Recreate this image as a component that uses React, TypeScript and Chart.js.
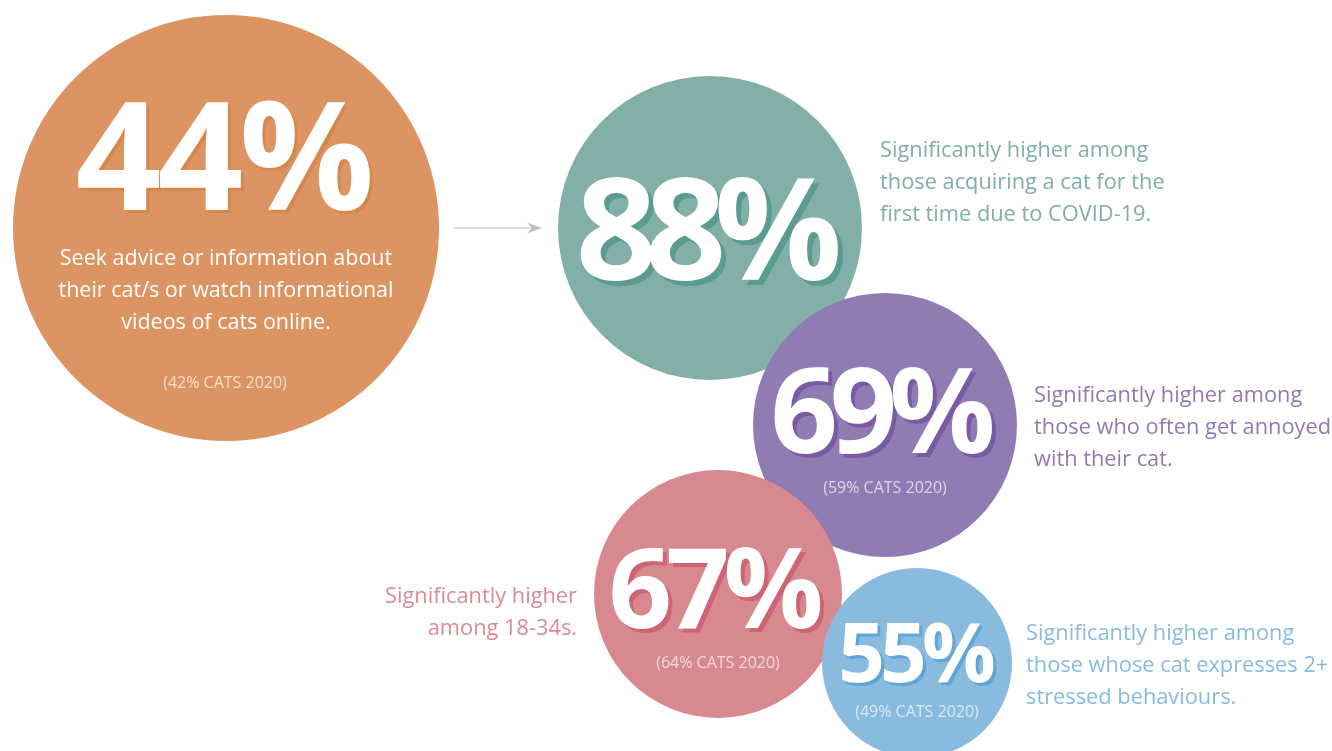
import React, { useEffect, useRef } from "react";
import { Chart, registerables } from "chart.js";
Chart.register(...registerables);

// ---------- data ----------
const groups = [
  "All cat owners",
  "First-time owners due to COVID-19",
  "Often annoyed with cat",
  "18-34s",
  "Cat expresses 2+ stressed behaviours",
];
const values2021 = [44, 88, 69, 67, 55];
const values2020: (number | null)[] = [42, null, 59, 64, 49];
const descriptions: string[][] = [
  ["Seek advice or information about", "their cat/s or watch informational", "videos of cats online."],
  ["Significantly higher among", "those acquiring a cat for the", "first time due to COVID-19."],
  ["Significantly higher among", "those who often get annoyed", "with their cat."],
  ["Significantly higher", "among 18-34s."],
  ["Significantly higher among", "those whose cat expresses 2+", "stressed behaviours."],
];

// ---------- layout (positions / sizes / styles) ----------
const W = 1332;
const H = 751;
const circleX = [226, 710, 885, 718, 917];
const circleY = [228, 228, 425, 594, 663];
const circleR = [213, 152, 132, 124, 95];
const fills = ["#DC9562", "#82AFA8", "#917BB3", "#D8888F", "#89BBDF"];
const shadowCols = ["#D6884C", "#5A9B92", "#7A5AA3", "#CF6474", "#5FA6D6"];
const sideCols = ["#FFFFFF", "#7FAFA7", "#9478B4", "#D98C94", "#87BBE0"];

const numX = [225, 709, 883, 716, 917];
const numBase = [210, 280, 453, 628, 682];
const numSize = [150, 142, 118, 111, 82];
const numSpacing = [-4, -12, -8, -6, -5];
const numShadow = [3, 5, 4, 4, 3];

const descX = [226, 880, 1034, 577, 1026];
const descBase = [265, 157, 402, 603, 640];
const descAlign: CanvasTextAlign[] = ["center", "left", "left", "right", "left"];
const descSize = [21.5, 21.8, 21.8, 21.8, 21.8];
const descLine = 32;

const prevX = [225, 0, 885, 718, 917];
const prevBase = [388, 0, 493, 668, 717];

const FONT = "'Open Sans', 'Noto Sans', sans-serif";

function drawSpaced(ctx: CanvasRenderingContext2D, text: string, cx: number, y: number, spacing: number) {
  // centre the ink of letter-spaced text on cx
  (ctx as any).letterSpacing = `${spacing}px`;
  ctx.textAlign = "left";
  const w = ctx.measureText(text).width - spacing;
  ctx.fillText(text, cx - w / 2, y);
  (ctx as any).letterSpacing = "0px";
}

const textPlugin = {
  id: "infographicText",
  afterDatasetsDraw(chart: any) {
    const ctx: CanvasRenderingContext2D = chart.ctx;
    const meta = chart.getDatasetMeta(0);
    ctx.save();
    // arrow between first two circles
    const p0 = meta.data[0];
    const p1 = meta.data[1];
    const ay = p0.y;
    const ax0 = p0.x + circleR[0] + 15;
    const ax1 = p1.x - circleR[1] - 16;
    ctx.strokeStyle = "#BDBDBD";
    ctx.lineWidth = 1.2;
    ctx.beginPath();
    ctx.moveTo(ax0, ay);
    ctx.lineTo(ax1 - 4, ay);
    ctx.stroke();
    ctx.fillStyle = "#BDBDBD";
    ctx.beginPath();
    ctx.moveTo(ax1, ay);
    ctx.lineTo(ax1 - 15, ay - 5.5);
    ctx.lineTo(ax1 - 10, ay);
    ctx.lineTo(ax1 - 15, ay + 5.5);
    ctx.closePath();
    ctx.fill();

    values2021.forEach((v, i) => {
      const label = `${v}%`;
      ctx.textBaseline = "alphabetic";
      ctx.font = `700 ${numSize[i]}px ${FONT}`;
      const off = numShadow[i];
      ctx.fillStyle = shadowCols[i];
      drawSpaced(ctx, label, numX[i] + off, numBase[i] + off, numSpacing[i]);
      ctx.fillStyle = "#FFFFFF";
      drawSpaced(ctx, label, numX[i], numBase[i], numSpacing[i]);

      // description
      ctx.font = `400 ${descSize[i]}px ${FONT}`;
      ctx.textAlign = descAlign[i];
      ctx.fillStyle = sideCols[i];
      descriptions[i].forEach((line, k) => {
        ctx.fillText(line, descX[i], descBase[i] + k * descLine);
      });

      // previous year
      const pv = values2020[i];
      if (pv !== null) {
        ctx.font = `400 16px ${FONT}`;
        ctx.textAlign = "center";
        ctx.fillStyle = "rgba(255,255,255,0.68)";
        ctx.fillText(`(${pv}% CATS 2020)`, prevX[i], prevBase[i]);
      }
    });
    ctx.restore();
  },
};

export default function App() {
  const ref = useRef<HTMLCanvasElement | null>(null);
  useEffect(() => {
    document.body.style.margin = "0";
    const canvas = ref.current!;
    const chart = new Chart(canvas, {
      type: "bubble",
      data: {
        labels: groups,
        datasets: [
          {
            label: "2021",
            data: values2021.map((v, i) => ({ x: circleX[i], y: circleY[i], r: circleR[i], v })),
            backgroundColor: fills,
            borderWidth: 0,
            hoverBorderWidth: 0,
            clip: false,
          } as any,
        ],
      },
      options: {
        animation: false,
        responsive: false,
        events: [],
        layout: { padding: 0, autoPadding: false } as any,
        plugins: { legend: { display: false }, tooltip: { enabled: false } },
        scales: {
          x: { type: "linear", min: 0, max: W, display: false },
          y: { type: "linear", min: 0, max: H, reverse: true, display: false },
        },
      },
      plugins: [textPlugin],
    });
    return () => chart.destroy();
  }, []);
  return (
    <div style={{ width: W, height: H, background: "#FFFFFF" }}>
      <canvas ref={ref} width={W} height={H} style={{ display: "block" }} />
    </div>
  );
}
